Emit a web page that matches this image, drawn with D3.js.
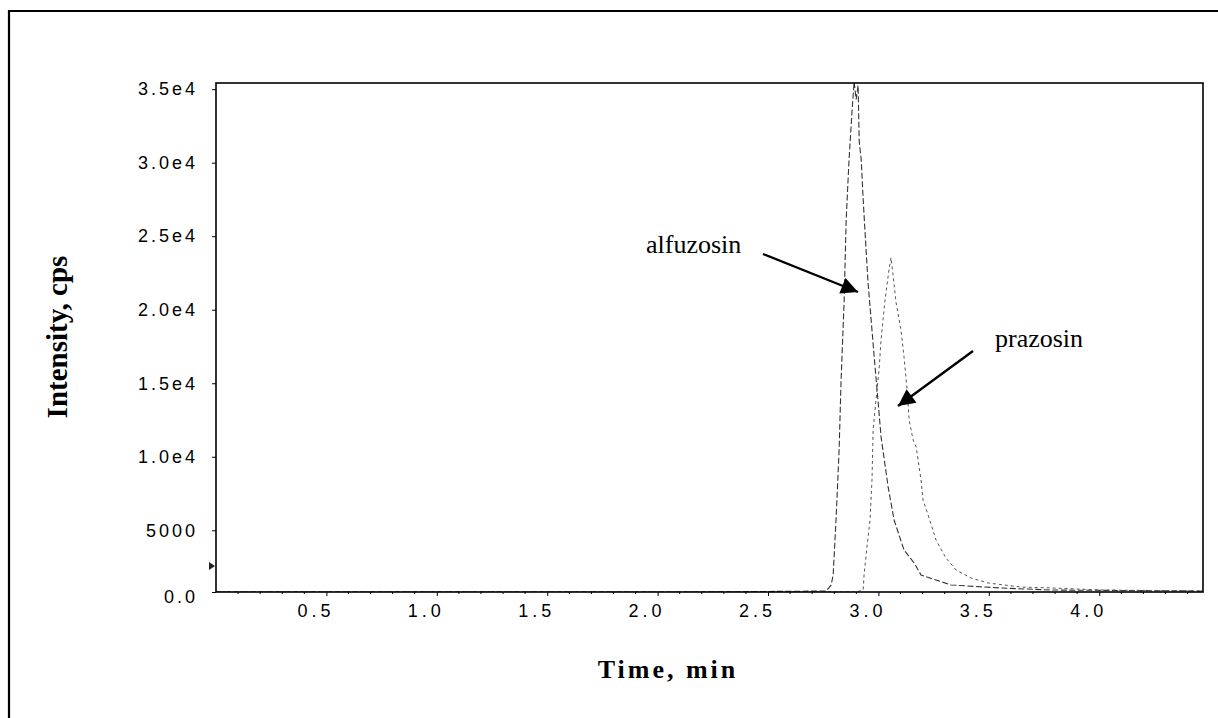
<!DOCTYPE html>
<html>
<head>
<meta charset="utf-8">
<script src="https://cdn.jsdelivr.net/npm/d3@7"></script>
<style>
  html, body { margin: 0; padding: 0; background: #fff; }
  svg { display: block; }
</style>
</head>
<body>
<svg id="chart" width="1218" height="718"></svg>
<script>
// ---------- data ----------
const alfuzosinTime = [0.00, 1.00, 2.20, 2.763, 2.786, 2.795, 2.808, 2.822, 2.831, 2.845, 2.854, 2.867, 2.881, 2.890, 2.899, 2.908, 2.913, 2.922, 2.931, 2.944, 2.953, 2.967, 2.980, 2.999, 3.012, 3.044, 3.071, 3.116, 3.162, 3.193, 3.261, 3.329, 3.555, 3.782, 4.47];
const alfuzosinIntensity = [0, 0, 0, 80, 570, 1380, 5700, 10470, 15240, 20680, 26130, 30220, 33620, 35500, 34300, 35250, 31440, 30220, 27490, 24090, 21840, 19320, 16940, 13670, 11350, 7950, 5700, 3400, 2350, 1380, 970, 570, 320, 160, 80];

const prazosinTime = [0.00, 1.00, 2.20, 2.899, 2.931, 2.935, 2.949, 2.962, 2.971, 2.976, 2.989, 3.003, 3.012, 3.030, 3.048, 3.057, 3.066, 3.071, 3.080, 3.102, 3.116, 3.130, 3.139, 3.157, 3.171, 3.193, 3.202, 3.225, 3.261, 3.306, 3.352, 3.420, 3.497, 3.646, 3.796, 4.008, 4.47];
const prazosinIntensity = [0, 0, 0, 0, 160, 1380, 3810, 5700, 8430, 11830, 13870, 15920, 17960, 20680, 22730, 23540, 22390, 21700, 20480, 18640, 16800, 14550, 12510, 11150, 10670, 8430, 7060, 6040, 4210, 2750, 1780, 1130, 730, 400, 320, 160, 80];

const xTickValues = [0.5, 1.0, 1.5, 2.0, 2.5, 3.0, 3.5, 4.0];
const xTickLabels = ["0.5", "1.0", "1.5", "2.0", "2.5", "3.0", "3.5", "4.0"];
const yTickValues = [0, 5000, 10000, 15000, 20000, 25000, 30000, 35000];
const yTickLabels = ["0.0", "5000", "1.0e4", "1.5e4", "2.0e4", "2.5e4", "3.0e4", "3.5e4"];

const annotations = [
  { label: "alfuzosin", text: [646, 253], from: [763, 254], to: [858, 292] },
  { label: "prazosin",  text: [995, 347], from: [973, 351], to: [898, 406] }
];
const markerValue = 2100;

// ---------- layout ----------
const svg = d3.select("#chart");
const plot = { left: 216, top: 83, right: 1203, bottom: 592 };

const x = d3.scaleLinear().domain([0, 4.47]).range([plot.left, plot.right]);
// the instrument's axis places its lowest tick at the frame bottom, with a shorter first step
const y = d3.scaleLinear().domain([0, 5000, 35420]).range([plot.bottom, 530.3, plot.top]);

// outer frame
svg.append("path")
  .attr("d", "M9,730 L9,11 L1230,11")
  .attr("fill", "none").attr("stroke", "#000").attr("stroke-width", 2.2);

const defs = svg.append("defs");
defs.append("clipPath").attr("id", "clip")
  .append("rect").attr("x", plot.left).attr("y", plot.top)
  .attr("width", plot.right - plot.left).attr("height", plot.bottom - plot.top);

// series
const line = d3.line().x(d => x(d[0])).y(d => y(d[1]));
const seriesG = svg.append("g").attr("clip-path", "url(#clip)");
seriesG.append("path")
  .datum(alfuzosinTime.map((t, i) => [t, alfuzosinIntensity[i]]))
  .attr("d", line).attr("fill", "none")
  .attr("stroke", "#333").attr("stroke-width", 1.1).attr("stroke-dasharray", "6,2.5");
seriesG.append("path")
  .datum(prazosinTime.map((t, i) => [t, prazosinIntensity[i]]))
  .attr("d", line).attr("fill", "none")
  .attr("stroke", "#555").attr("stroke-width", 1.0).attr("stroke-dasharray", "3,3");

// plot box
svg.append("rect")
  .attr("x", plot.left).attr("y", plot.top)
  .attr("width", plot.right - plot.left).attr("height", plot.bottom - plot.top)
  .attr("fill", "none").attr("stroke", "#000").attr("stroke-width", 1.6);

// x axis
const xAxis = d3.axisBottom(x)
  .tickValues(xTickValues)
  .tickFormat((d, i) => xTickLabels[i])
  .tickSize(4).tickPadding(8);
const gx = svg.append("g").attr("transform", `translate(0,${plot.bottom})`).call(xAxis);
gx.select(".domain").remove();
gx.selectAll("text")
  .attr("font-family", "'Liberation Sans', Arial, sans-serif")
  .attr("font-size", 18).attr("fill", "#000")
  .attr("letter-spacing", "4px")
  .attr("dx", -11);
// minor x ticks
const minor = d3.range(1, 45).map(i => i / 10).filter(v => !xTickValues.some(t => Math.abs(t - v) < 1e-6));
svg.append("g").selectAll("line").data(minor).join("line")
  .attr("x1", d => x(d)).attr("x2", d => x(d))
  .attr("y1", plot.bottom).attr("y2", plot.bottom + 2)
  .attr("stroke", "#000").attr("stroke-width", 1);

// y axis
const yAxis = d3.axisLeft(y)
  .tickValues(yTickValues)
  .tickFormat((d, i) => yTickLabels[i])
  .tickSize(4).tickPadding(14);
const gy = svg.append("g").attr("transform", `translate(${plot.left},0)`).call(yAxis);
gy.select(".domain").remove();
gy.selectAll("text")
  .attr("font-family", "'Liberation Sans', Arial, sans-serif")
  .attr("font-size", 18).attr("fill", "#000")
  .attr("letter-spacing", "3px");
gy.selectAll(".tick").filter(d => d === 0).select("text").attr("dy", "0.6em");

// left marker
svg.append("path")
  .attr("d", `M${plot.left - 7},${y(markerValue) - 4} L${plot.left - 1},${y(markerValue)} L${plot.left - 7},${y(markerValue) + 4} Z`)
  .attr("fill", "#222");

// axis titles
svg.append("text")
  .attr("transform", "translate(67,337) rotate(-90)")
  .attr("text-anchor", "middle")
  .attr("font-family", "'Liberation Serif', 'Times New Roman', serif")
  .attr("font-weight", "bold").attr("font-size", 29)
  .text("Intensity, cps");
svg.append("text")
  .attr("x", 668).attr("y", 678)
  .attr("text-anchor", "middle")
  .attr("font-family", "'Liberation Serif', 'Times New Roman', serif")
  .attr("font-weight", "bold").attr("font-size", 26)
  .attr("letter-spacing", "3px")
  .text("Time, min");

// annotations
defs.append("marker").attr("id", "arrow")
  .attr("viewBox", "0 0 10 10").attr("refX", 10).attr("refY", 5)
  .attr("markerWidth", 7.5).attr("markerHeight", 7).attr("markerUnits", "strokeWidth")
  .attr("orient", "auto")
  .append("path").attr("d", "M0,0 L10,5 L0,10 Z").attr("fill", "#000");

annotations.forEach(a => {
  svg.append("text")
    .attr("x", a.text[0]).attr("y", a.text[1])
    .attr("font-family", "'Liberation Serif', 'Times New Roman', serif")
    .attr("font-size", 26).attr("fill", "#000")
    .text(a.label);
  svg.append("line")
    .attr("x1", a.from[0]).attr("y1", a.from[1])
    .attr("x2", a.to[0]).attr("y2", a.to[1])
    .attr("stroke", "#000").attr("stroke-width", 2.4)
    .attr("marker-end", "url(#arrow)");
});
</script>
</body>
</html>
